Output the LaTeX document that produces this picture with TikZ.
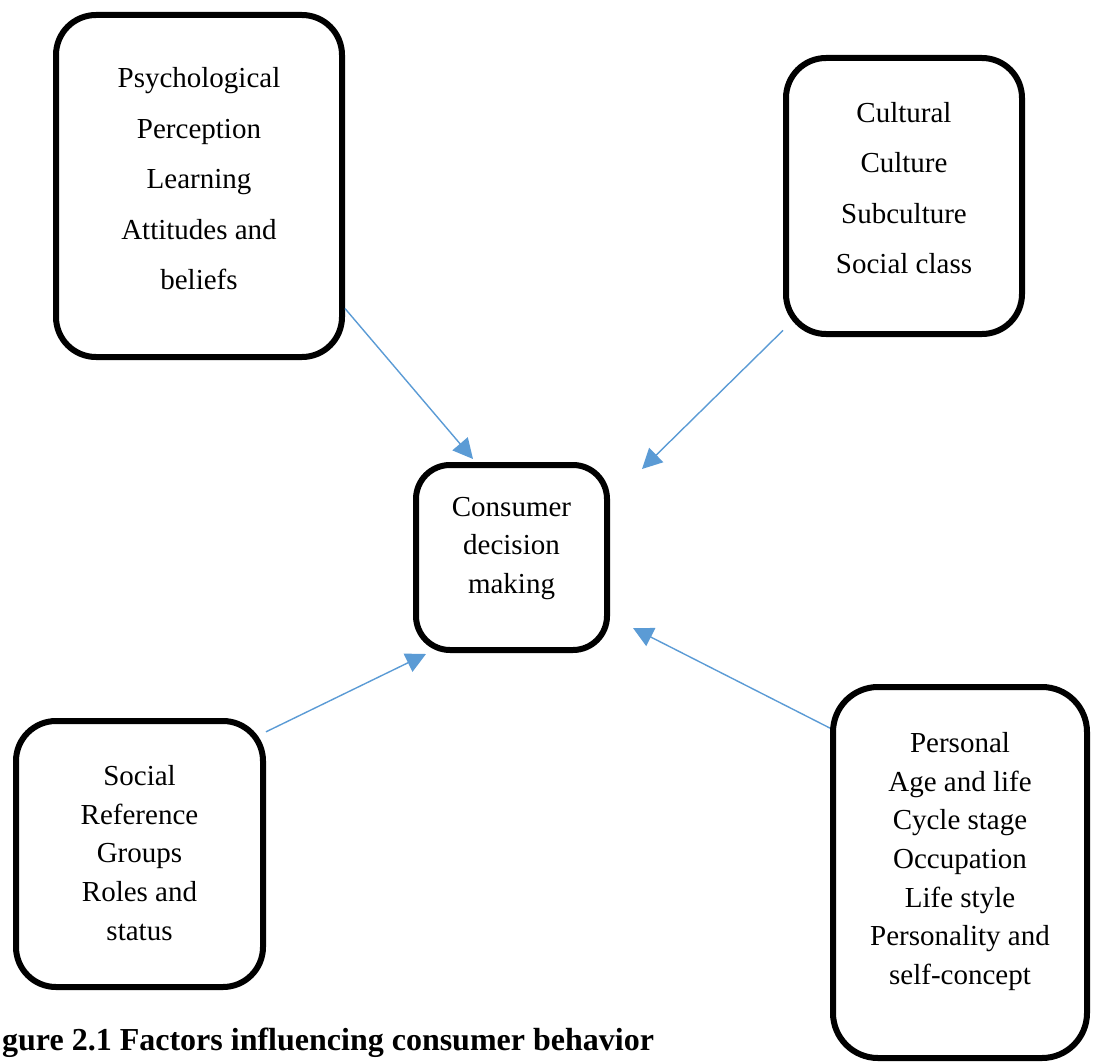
\documentclass[tikz,border=0pt]{standalone}
\usepackage{fontspec}
\setmainfont{Liberation Serif}
\usetikzlibrary{arrows.meta}
\definecolor{arrowblue}{HTML}{5B9BD5}
\begin{document}
\begin{tikzpicture}[x=1pt,y=-1pt,
  factor/.style={rectangle,draw=black,line width=6pt,rounded corners=40pt,inner sep=0pt},
  factortext/.style={align=center,inner sep=0pt,font={\fontsize{29}{38.7}\selectfont}},
  wide/.style={font={\fontsize{29}{50.5}\selectfont}},
  influence/.style={draw=arrowblue,line width=1.4pt,-{Triangle[length=20pt,width=20pt]}}]
\useasboundingbox (0,0) rectangle (1094,1062);

% boxes
\node[factor,minimum width=286pt,minimum height=342pt] (psych) at (199,186) {};
\node[factor,minimum width=236pt,minimum height=276pt] (cultural) at (904,196) {};
\node[factor,minimum width=191pt,minimum height=185pt,rounded corners=34pt] (decision) at (511.5,557.5) {};
\node[factor,minimum width=247pt,minimum height=266pt] (social) at (139.5,854) {};
\node[factor,minimum width=254pt,minimum height=371pt,rounded corners=45pt] (personal) at (960,872.5) {};

% texts
\node[factortext,wide] (psychtext) at (199,179)         {Psychological\\Perception\\Learning\\Attitudes and\\beliefs};
\node[factortext,wide] (culturaltext) at (904,188)      {Cultural\\Culture\\Subculture\\Social class};
\node[factortext] (decisiontext) at (511.5,548.5)       {Consumer\\decision\\making};
\node[factortext] (socialtext) at (139.5,853)           {Social\\Reference\\Groups\\Roles and\\status};
\node[factortext] (personaltext) at (960,861.5)         {Personal\\Age and life\\Cycle stage\\Occupation\\Life style\\Personality and\\self-concept};

% arrow ends near the decision box
\coordinate (psychtip) at (473,459);
\coordinate (culturaltip) at (642,469);
\coordinate (socialtip) at (426,654);
\coordinate (personaltip) at (633,628);

\draw[influence] (psych.-40) -- (psychtip);
\draw[influence] (cultural.228) -- (culturaltip);
\draw[influence] (social.44) -- (socialtip);
\draw[influence] (personal.132) -- (personaltip);

\node[anchor=base west,font={\fontsize{32}{38}\selectfont\bfseries},inner sep=0pt] (caption) at (2,1050) {gure 2.1 Factors influencing consumer behavior};

\end{tikzpicture}
\end{document}
